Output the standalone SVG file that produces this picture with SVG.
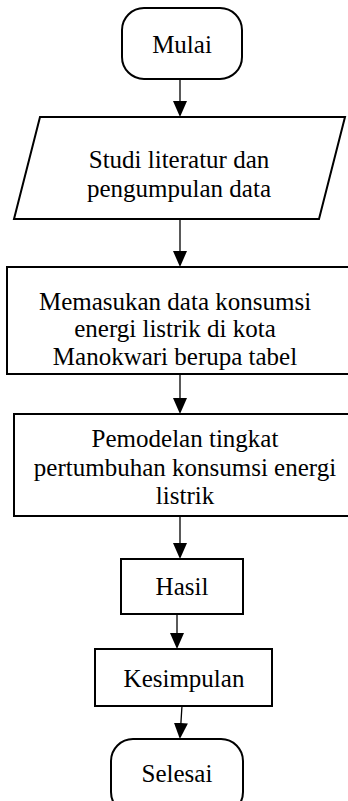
<svg xmlns="http://www.w3.org/2000/svg" width="348" height="801" viewBox="0 0 348 801">
<style>
.shape{fill:#fff;stroke:#000;stroke-width:2}
.t{font-family:"Liberation Serif","Times New Roman",serif;font-size:25px;fill:#000;text-anchor:middle}
.c{stroke:#000;stroke-width:1.3;fill:none;marker-end:url(#ah)}
</style>
<defs>
<marker id="ah" markerUnits="userSpaceOnUse" markerWidth="16" markerHeight="14" refX="14" refY="7" orient="auto" viewBox="0 0 16 14">
<path d="M0,0 L16,7 L0,14 Z" fill="#000"/>
</marker>
</defs>
<rect width="348" height="801" fill="#fff"/>
<g id="connectors">
<line class="c" x1="180" y1="79" x2="180" y2="115"/>
<line class="c" x1="180" y1="220" x2="180" y2="265"/>
<line class="c" x1="180" y1="374" x2="180" y2="412"/>
<line class="c" x1="180" y1="516" x2="180" y2="557"/>
<line class="c" x1="177" y1="614" x2="177" y2="647"/>
<line class="c" x1="182" y1="706" x2="180" y2="737"/>
</g>
<g id="mulai">
<rect class="shape" x="122" y="8" width="120" height="71" rx="22" ry="22"/>
<text class="t" x="182" y="53">Mulai</text>
</g>
<g id="studi">
<polygon class="shape" points="40,117 345,117 319,219 14,219"/>
<text class="t" x="179" y="168">Studi literatur dan</text>
<text class="t" x="179" y="197">pengumpulan data</text>
</g>
<g id="memasukan">
<rect class="shape" x="7" y="267" width="350" height="107"/>
<text class="t" x="175" y="310">Memasukan data konsumsi</text>
<text class="t" x="175" y="337">energi listrik di kota</text>
<text class="t" x="175" y="365">Manokwari berupa tabel</text>
</g>
<g id="pemodelan">
<rect class="shape" x="14" y="414" width="345" height="102"/>
<text class="t" x="185" y="447">Pemodelan tingkat</text>
<text class="t" x="185" y="476">pertumbuhan konsumsi energi</text>
<text class="t" x="185" y="504">listrik</text>
</g>
<g id="hasil">
<rect class="shape" x="121" y="559" width="122" height="55"/>
<text class="t" x="182" y="595">Hasil</text>
</g>
<g id="kesimpulan">
<rect class="shape" x="95" y="649" width="177" height="57"/>
<text class="t" x="184" y="687">Kesimpulan</text>
</g>
<g id="selesai">
<rect class="shape" x="111" y="739" width="132" height="75" rx="22" ry="22"/>
<text class="t" x="177" y="782">Selesai</text>
</g>
</svg>
